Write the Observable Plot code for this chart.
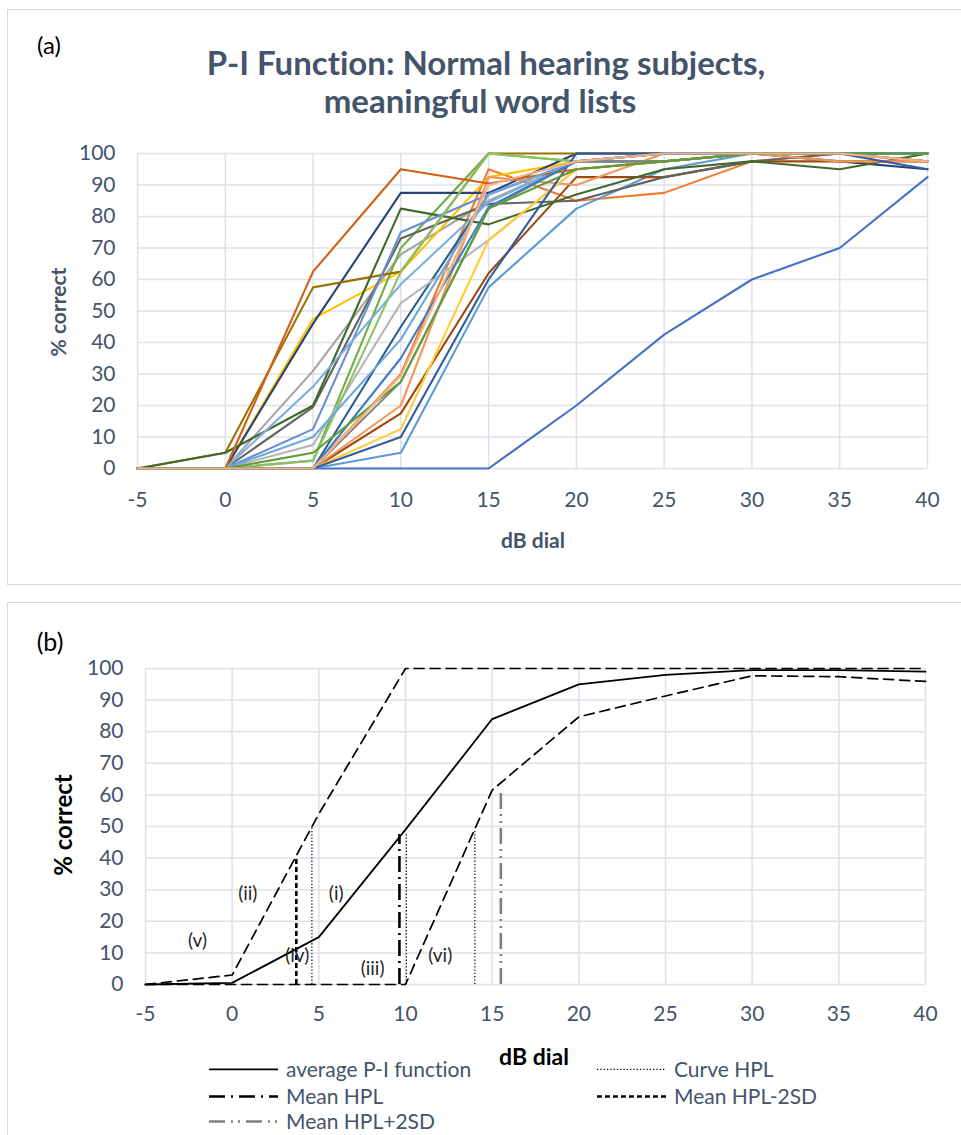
<!DOCTYPE html>
<html><head><meta charset="utf-8">
<script src="https://cdn.jsdelivr.net/npm/d3@7"></script>
<script src="https://cdn.jsdelivr.net/npm/@observablehq/plot@0.6"></script>
<style>
body{margin:0;background:#fff;font-family:Lato,"Open Sans",sans-serif;font-variant-ligatures:none;}
#root{position:relative;width:961px;height:1135px;overflow:hidden;background:#fff;}
.frame{position:absolute;border:1px solid #d9d9d9;box-sizing:border-box;}
.t{position:absolute;white-space:nowrap;transform:translate(-50%,-50%);line-height:1;}
.plot{position:absolute;left:0;}
.leg{position:absolute;display:flex;align-items:center;font-size:21px;line-height:1.1;color:#44546a;white-space:nowrap;transform:translateY(-50%);}
.leg svg{margin-right:8px;}
</style></head><body><div id="root">
<div class="frame" style="left:7px;top:9px;width:970px;height:576px"></div>
<div class="frame" style="left:7px;top:602px;width:970px;height:560px"></div>
<div class="t" style="left:49px;top:45px;font-size:24px;color:#000">(a)</div>
<div class="t" style="left:486px;top:62px;font-size:33px;font-weight:bold;color:#44546a">P-I Function: Normal hearing subjects,</div>
<div class="t" style="left:480px;top:100px;font-size:33px;font-weight:bold;color:#44546a">meaningful word lists</div>
<div class="t" style="left:57px;top:312px;font-size:21px;font-weight:bold;color:#44546a;transform:translate(-50%,-50%) rotate(-90deg)">% correct</div>
<div class="t" style="left:533px;top:539px;font-size:21px;font-weight:bold;color:#44546a">dB dial</div>
<div id="plotA" class="plot" style="top:140px"></div>
<div class="t" style="left:50px;top:641px;font-size:25px;color:#000">(b)</div>
<div class="t" style="left:63px;top:825px;font-size:24px;font-weight:bold;color:#000;transform:translate(-50%,-50%) rotate(-90deg)">% correct</div>
<div class="t" style="left:534px;top:1056px;font-size:23px;font-weight:bold;color:#000">dB dial</div>
<div id="plotB" class="plot" style="top:650px"></div>
<div id="legend"></div>
</div>
<script>
// ---------- Panel (a) data ----------
const dB = [-5, 0, 5, 10, 15, 20, 25, 30, 35, 40];
const xTicks = [-5, 0, 5, 10, 15, 20, 25, 30, 35, 40];
const yTicks = [0, 10, 20, 30, 40, 50, 60, 70, 80, 90, 100];
const subjectColors = [
  "#4472C4","#ED7D31","#A5A5A5","#FFC000","#5B9BD5","#70AD47","#264478","#9E480E",
  "#636363","#997300","#255E91","#43682B","#698ED0","#F1975A","#B7B7B7","#FFCD33",
  "#7CAFDD","#8CC168","#335AA1","#D26012","#848484","#6FA8DC","#3C7DC4","#5E9E37","#F4B183"
];
const subjectScores = [
  [0, 0, 0, 0, 0, 20, 42.5, 60, 70, 92.5],
  [0, 0, 0, 30, 95, 85, 87.5, 97.5, 100, 97.5],
  [0, 0, 31, 68, 85, 97.5, 97.5, 100, 100, 100],
  [0, 0, 47.5, 62.5, 92.5, 97.5, 100, 100, 100, 100],
  [0, 0, 0, 5, 57.5, 82.5, 95, 100, 100, 100],
  [0, 0, 2.5, 70, 100, 97.5, 97.5, 100, 100, 100],
  [0, 0, 46, 87.5, 87.5, 100, 100, 100, 97.5, 95],
  [0, 0, 0, 17.5, 62, 92.5, 92.5, 97.5, 97.5, 97.5],
  [0, 0, 19.5, 73, 84, 85, 92.5, 97.5, 100, 100],
  [0, 5, 57.5, 62.5, 100, 100, 100, 100, 100, 100],
  [0, 0, 0, 45, 87, 97.5, 100, 100, 100, 100],
  [0, 5, 20, 82.5, 77.5, 87, 95, 97.5, 95, 100],
  [0, 0, 12.5, 75, 87, 97.5, 97.5, 100, 100, 97.5],
  [0, 0, 0, 20, 92.5, 90, 100, 100, 97.5, 97.5],
  [0, 0, 7.5, 52.5, 72.5, 95, 97.5, 100, 100, 100],
  [0, 0, 0, 12.5, 72.5, 95, 97.5, 100, 100, 100],
  [0, 0, 26, 58.5, 84.5, 97.5, 100, 100, 100, 100],
  [0, 0, 2.5, 62.5, 100, 97.5, 100, 100, 100, 100],
  [0, 0, 0, 10, 60, 100, 100, 100, 100, 95],
  [0, 0, 62.5, 95, 90.5, 95, 97.5, 100, 100, 97.5],
  [0, 0, 0, 27.5, 82.5, 97.5, 97.5, 100, 100, 100],
  [0, 0, 10, 41, 87, 97.5, 100, 100, 100, 100],
  [0, 0, 0, 35, 83, 97.5, 100, 100, 100, 100],
  [0, 0, 5, 27.5, 82.5, 95, 97.5, 100, 100, 100],
  [0, 0, 0, 29.5, 90, 97.5, 100, 100, 100, 97.5]
];

// ---------- Panel (b) data ----------
const avgPI = [0, 0.5, 15, 49, 84, 95, 98, 99.5, 99.5, 99];
const upperPI = [0, 3, 54, 100, 100, 100, 100, 100, 100, 100];
const lowerPI = [0, 0, 0, 0, 61.5, 84.7, 91.3, 97.7, 97.4, 95.9];
const curveHPLx = [4.6, 10.05, 14.0];
const curveHPLtop = [50, 48, 49];
const meanHPLx = 9.65, meanHPLtop = 47.5;
const meanHPLm2SDx = 3.7, meanHPLm2SDtop = 40;
const meanHPLp2SDx = 15.5, meanHPLp2SDtop = 62;
const annLabels = ["(v)", "(ii)", "(i)", "(iv)", "(iii)", "(vi)"];
const annX = [-2.0, 0.9, 6.0, 3.75, 8.1, 12.0];
const annY = [13.9, 28.8, 28.8, 9.2, 5.0, 9.2];
const legendNames = ["average P-I function", "Curve HPL", "Mean HPL", "Mean HPL-2SD", "Mean HPL+2SD"];

const gridColor = "#dde1e8";
const tickColor = "#44546a";

// ---------- Plot (a) ----------
const rowsA = subjectScores.flatMap((vals, i) => vals.map((v, j) => ({s: i, x: dB[j], y: v, c: subjectColors[i]})));
const plotA = Plot.plot({
  width: 961, height: 378,
  marginLeft: 137, marginRight: 34, marginTop: 13, marginBottom: 50,
  style: {fontFamily: "Lato, 'Open Sans', sans-serif", background: "transparent", overflow: "visible"},
  x: {domain: [-5, 40]},
  y: {domain: [0, 100]},
  color: {type: "identity"},
  marks: [
    Plot.gridX(xTicks, {stroke: gridColor, strokeOpacity: 1, strokeWidth: 1.5}),
    Plot.gridY(yTicks, {stroke: gridColor, strokeOpacity: 1, strokeWidth: 1.5}),
    Plot.axisX(xTicks, {tickSize: 0, tickPadding: 24, fontSize: 21, fill: tickColor, label: null, tickFormat: d => String(d)}),
    Plot.axisY(yTicks, {tickSize: 0, tickPadding: 22, fontSize: 21, fill: tickColor, label: null}),
    Plot.line(rowsA, {x: "x", y: "y", z: "s", stroke: "c", strokeWidth: 2.1})
  ]
});
document.getElementById("plotA").appendChild(plotA);

// ---------- Plot (b) ----------
const lineRows = (arr) => arr.map((v, j) => ({x: dB[j], y: v}));
const vert = (xs, tops) => xs.map((x, i) => ({x, y1: 0, y2: tops[i]}));
const annRows = annLabels.map((t, i) => ({t, x: annX[i], y: annY[i]}));
const plotB = Plot.plot({
  width: 961, height: 379,
  marginLeft: 145, marginRight: 36, marginTop: 18, marginBottom: 45,
  style: {fontFamily: "Lato, 'Open Sans', sans-serif", background: "transparent", overflow: "visible"},
  x: {domain: [-5, 40]},
  y: {domain: [0, 100]},
  marks: [
    Plot.gridX(xTicks, {stroke: gridColor, strokeOpacity: 1, strokeWidth: 1.5}),
    Plot.gridY(yTicks, {stroke: gridColor, strokeOpacity: 1, strokeWidth: 1.5}),
    Plot.axisX(xTicks, {tickSize: 0, tickPadding: 22, fontSize: 21, fill: tickColor, label: null, tickFormat: d => String(d)}),
    Plot.axisY(yTicks, {tickSize: 0, tickPadding: 22, fontSize: 21, fill: tickColor, label: null}),
    Plot.line(lineRows(upperPI), {x: "x", y: "y", stroke: "#000", strokeWidth: 1.7, strokeDasharray: "10,6"}),
    Plot.line(lineRows(lowerPI), {x: "x", y: "y", stroke: "#000", strokeWidth: 1.7, strokeDasharray: "10,6"}),
    Plot.line(lineRows(avgPI), {x: "x", y: "y", stroke: "#000", strokeWidth: 1.8}),
    Plot.ruleX(vert(curveHPLx, curveHPLtop), {x: "x", y1: "y1", y2: "y2", stroke: "#000", strokeWidth: 1.2, strokeDasharray: "1.3,2"}),
    Plot.ruleX(vert([meanHPLm2SDx], [meanHPLm2SDtop]), {x: "x", y1: "y1", y2: "y2", stroke: "#000", strokeWidth: 2.6, strokeDasharray: "5,3"}),
    Plot.ruleX(vert([meanHPLx], [meanHPLtop]), {x: "x", y1: "y1", y2: "y2", stroke: "#000", strokeWidth: 2.6, strokeDasharray: "16,5,2,5"}),
    Plot.ruleX(vert([meanHPLp2SDx], [meanHPLp2SDtop]), {x: "x", y1: "y1", y2: "y2", stroke: "#7f7f7f", strokeWidth: 2.6, strokeDasharray: "16,5,2,5,2,5"}),
    Plot.text(annRows, {x: "x", y: "y", text: "t", fontSize: 19, fill: "#262626"})
  ]
});
document.getElementById("plotB").appendChild(plotB);

// ---------- Legend (b) ----------
const legendStyles = [
  {stroke: "#000", w: 1.8, dash: null},
  {stroke: "#000", w: 1.2, dash: "1.3,2"},
  {stroke: "#000", w: 2.6, dash: "16,6,2,6"},
  {stroke: "#000", w: 2.6, dash: "5,3"},
  {stroke: "#7f7f7f", w: 2.6, dash: "16,6,2,5,2,6"}
];
const legendPos = [[209, 1069], [597, 1069], [209, 1096], [597, 1096], [209, 1121]];
const leg = document.getElementById("legend");
legendNames.forEach((name, i) => {
  const st = legendStyles[i];
  const d = document.createElement("div");
  d.className = "leg";
  d.style.left = legendPos[i][0] + "px";
  d.style.top = legendPos[i][1] + "px";
  d.innerHTML = `<svg width="69" height="10"><line x1="0" y1="5" x2="69" y2="5" stroke="${st.stroke}" stroke-width="${st.w}" ${st.dash ? `stroke-dasharray="${st.dash}"` : ""}/></svg><span>${name}</span>`;
  leg.appendChild(d);
});
</script>
</body></html>
